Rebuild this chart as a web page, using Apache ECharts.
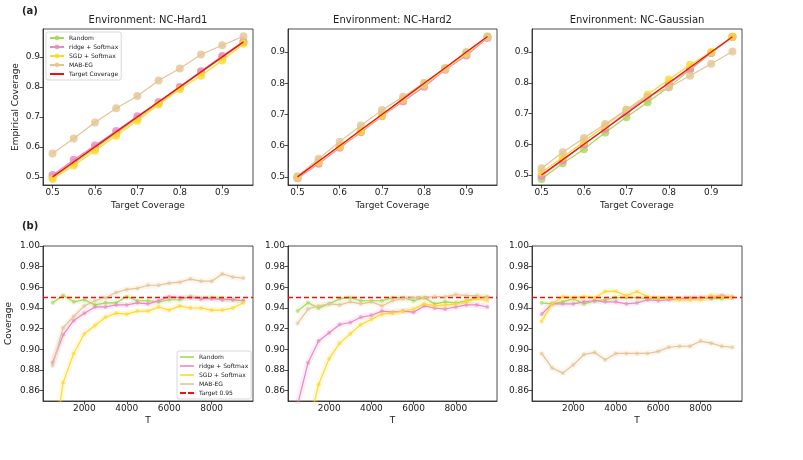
<!DOCTYPE html>
<html>
<head>
<meta charset="utf-8">
<script src="https://cdn.jsdelivr.net/npm/echarts@6/dist/echarts.min.js"></script>
<style>
  html, body { margin: 0; padding: 0; background: #fff; }
  #chart { width: 803px; height: 460px; }
</style>
</head>
<body>
<div id="chart"></div>
<script>
// (a) coverage vs target, one entry per environment
const envNames = ["Environment: NC-Hard1", "Environment: NC-Hard2", "Environment: NC-Gaussian"];
const targets = [0.5, 0.55, 0.6, 0.65, 0.7, 0.75, 0.8, 0.85, 0.9, 0.95];

const randomTop = [
  [0.498, 0.545, 0.595, 0.645, 0.695, 0.745, 0.797, 0.848, 0.898, 0.948],
  [0.499, 0.549, 0.598, 0.648, 0.699, 0.749, 0.798, 0.848, 0.898, 0.949],
  [0.487, 0.538, 0.584, 0.638, 0.688, 0.737, 0.786, 0.842, 0.897, 0.949],
];
const ridgeTop = [
  [0.506, 0.557, 0.605, 0.653, 0.702, 0.750, 0.800, 0.852, 0.903, 0.951],
  [0.496, 0.542, 0.593, 0.643, 0.694, 0.742, 0.789, 0.843, 0.889, 0.945],
  [0.497, 0.548, 0.600, 0.650, 0.705, 0.753, 0.797, 0.845, 0.898, 0.950],
];
const sgdTop = [
  [0.493, 0.538, 0.587, 0.637, 0.687, 0.741, 0.792, 0.837, 0.888, 0.944],
  [0.498, 0.548, 0.597, 0.646, 0.697, 0.748, 0.795, 0.846, 0.895, 0.948],
  [0.508, 0.558, 0.609, 0.660, 0.712, 0.762, 0.811, 0.859, 0.900, 0.950],
];
const mabTop = [
  [0.578, 0.628, 0.681, 0.729, 0.770, 0.821, 0.861, 0.908, 0.939, 0.969],
  [0.502, 0.558, 0.613, 0.665, 0.714, 0.757, 0.802, 0.848, 0.900, 0.950],
  [0.522, 0.574, 0.620, 0.666, 0.712, 0.755, 0.785, 0.823, 0.862, 0.902],
];
const topYRange = [[0.473, 0.993], [0.474, 0.974], [0.4675, 0.975]];
const topTicks = [0.5, 0.6, 0.7, 0.8, 0.9];

// (b) coverage over T at target 0.95
const T = [500, 1000, 1500, 2000, 2500, 3000, 3500, 4000, 4500, 5000,
           5500, 6000, 6500, 7000, 7500, 8000, 8500, 9000, 9500];
const targetLevel = 0.95;

const randomT = [
  [0.945, 0.952, 0.946, 0.948, 0.943, 0.945, 0.945, 0.951, 0.947, 0.947, 0.946, 0.948, 0.948, 0.951, 0.949, 0.950, 0.949, 0.948, 0.947],
  [0.937, 0.945, 0.940, 0.944, 0.949, 0.950, 0.947, 0.947, 0.947, 0.950, 0.950, 0.947, 0.950, 0.944, 0.946, 0.945, 0.947, 0.950, 0.951],
  [0.945, 0.944, 0.946, 0.949, 0.944, 0.947, 0.948, 0.950, 0.950, 0.950, 0.949, 0.949, 0.949, 0.949, 0.950, 0.950, 0.949, 0.949, 0.951],
];
const ridgeT = [
  [0.887, 0.914, 0.928, 0.935, 0.941, 0.941, 0.943, 0.943, 0.945, 0.944, 0.947, 0.951, 0.950, 0.950, 0.949, 0.949, 0.948, 0.948, 0.947],
  [0.846, 0.887, 0.908, 0.916, 0.924, 0.926, 0.931, 0.933, 0.937, 0.936, 0.937, 0.936, 0.942, 0.940, 0.939, 0.941, 0.943, 0.943, 0.941],
  [0.934, 0.944, 0.944, 0.944, 0.946, 0.947, 0.946, 0.946, 0.944, 0.945, 0.948, 0.947, 0.948, 0.949, 0.949, 0.950, 0.950, 0.952, 0.950],
];
const sgdT = [
  [0.800, 0.868, 0.896, 0.915, 0.923, 0.931, 0.935, 0.934, 0.937, 0.937, 0.941, 0.938, 0.942, 0.940, 0.940, 0.938, 0.938, 0.940, 0.945],
  [0.770, 0.823, 0.866, 0.891, 0.906, 0.915, 0.924, 0.929, 0.934, 0.935, 0.937, 0.939, 0.944, 0.942, 0.943, 0.944, 0.946, 0.949, 0.947],
  [0.927, 0.944, 0.951, 0.950, 0.951, 0.950, 0.956, 0.956, 0.952, 0.956, 0.951, 0.950, 0.950, 0.948, 0.948, 0.948, 0.952, 0.951, 0.950],
];
const mabT = [
  [0.884, 0.921, 0.932, 0.942, 0.947, 0.950, 0.955, 0.958, 0.959, 0.962, 0.962, 0.964, 0.965, 0.968, 0.966, 0.966, 0.973, 0.970, 0.969],
  [0.925, 0.939, 0.942, 0.944, 0.943, 0.946, 0.944, 0.946, 0.942, 0.947, 0.949, 0.950, 0.950, 0.951, 0.951, 0.953, 0.952, 0.952, 0.950],
  [0.896, 0.882, 0.877, 0.885, 0.895, 0.897, 0.890, 0.896, 0.896, 0.896, 0.896, 0.898, 0.902, 0.903, 0.903, 0.908, 0.906, 0.903, 0.902],
];
const bottomTicksY = [0.86, 0.88, 0.90, 0.92, 0.94, 0.96, 0.98, 1.00];
const bottomTicksX = [2000, 4000, 6000, 8000];

const methods = ["Random", "ridge + Softmax", "SGD + Softmax", "MAB-EG"];
const colors = ["#a6d854", "#e78ac3", "#ffd92f", "#e5c494"];
const red = "#f01010";
const ink = "#222";

const panelLefts = [43, 288, 532];
const panelWidths = [210, 209, 210];

const grids = [];
const xAxes = [];
const yAxes = [];
const series = [];

const axisCommon = (ticks, fmt) => ({
  type: "value",
  splitLine: { show: false },
  axisLine: { show: true, lineStyle: { color: ink, width: 0.8 } },
  axisTick: { show: true, customValues: ticks, length: 3.5, lineStyle: { color: ink, width: 0.8 } },
  axisLabel: { customValues: ticks, formatter: fmt, fontSize: 9, color: ink, margin: 3, fontFamily: "DejaVu Sans" },
  nameTextStyle: { fontSize: 9, color: ink, fontFamily: "DejaVu Sans" },
});

for (let i = 0; i < 3; i++) {
  // top row
  grids.push({ left: panelLefts[i], top: 29, width: panelWidths[i], height: 156,
    show: true, borderColor: ink, borderWidth: 0.8 });
  xAxes.push(Object.assign(axisCommon(topTicks, v => v.toFixed(1)), {
    gridIndex: i, min: 0.4775, max: 0.9725,
    name: "Target Coverage", nameLocation: "middle", nameGap: 16,
  }));
  yAxes.push(Object.assign(axisCommon(topTicks, v => v.toFixed(1)), {
    gridIndex: i, min: topYRange[i][0], max: topYRange[i][1],
    name: i === 0 ? "Empirical Coverage" : "", nameLocation: "middle", nameGap: 23,
  }));
}
for (let i = 0; i < 3; i++) {
  // bottom row
  grids.push({ left: panelLefts[i], top: 246, width: panelWidths[i], height: 155,
    show: true, borderColor: ink, borderWidth: 0.8 });
  xAxes.push(Object.assign(axisCommon(bottomTicksX, v => String(v)), {
    gridIndex: 3 + i, min: 50, max: 9950,
    name: "T", nameLocation: "middle", nameGap: 15,
  }));
  yAxes.push(Object.assign(axisCommon(bottomTicksY, v => v.toFixed(2)), {
    gridIndex: 3 + i, min: 0.85, max: 1.0,
    name: i === 0 ? "Coverage" : "", nameLocation: "middle", nameGap: 30,
  }));
}

const topData = [randomTop, ridgeTop, sgdTop, mabTop];
const bottomData = [randomT, ridgeT, sgdT, mabT];

for (let i = 0; i < 3; i++) {
  methods.forEach((m, k) => {
    series.push({
      name: m, type: "line", xAxisIndex: i, yAxisIndex: i,
      data: targets.map((x, j) => [x, topData[k][i][j]]),
      symbol: "circle", symbolSize: 8, color: colors[k],
      itemStyle: { color: colors[k], opacity: 0.8 },
      lineStyle: { color: colors[k], width: 1.2 },
      z: 2 + k,
    });
  });
  series.push({
    name: "Target Coverage", type: "line", xAxisIndex: i, yAxisIndex: i,
    data: targets.map(x => [x, x]),
    symbol: "none", color: red, lineStyle: { color: red, width: 1.3 }, z: 10,
  });
}

for (let i = 0; i < 3; i++) {
  methods.forEach((m, k) => {
    const pts = T.map((t, j) => [t, bottomData[k][i][j]]);
    // faint confidence band
    series.push({
      name: "_band" + i + "_" + k, type: "line", xAxisIndex: 3 + i, yAxisIndex: 3 + i,
      data: pts, symbol: "none", silent: true, clip: true,
      lineStyle: { color: colors[k], width: 6, opacity: 0.15 }, z: 1,
    });
    series.push({
      name: m, type: "line", xAxisIndex: 3 + i, yAxisIndex: 3 + i,
      data: pts, symbol: "circle", symbolSize: 4, color: colors[k], clip: true,
      itemStyle: { color: colors[k], opacity: 0.6 },
      lineStyle: { color: colors[k], width: 1.2 },
      z: 2 + k,
    });
  });
  series.push({
    name: "Target 0.95", type: "line", xAxisIndex: 3 + i, yAxisIndex: 3 + i,
    data: [], color: red,
    markLine: {
      silent: true, symbol: "none", label: { show: false },
      lineStyle: { color: red, width: 1.4, type: [5, 3] },
      data: [{ yAxis: targetLevel }],
    },
    z: 10,
  });
}

const legendBox = {
  orient: "vertical", itemWidth: 14, itemGap: 3,
  padding: [3, 3], borderColor: "#cfcfcf", borderWidth: 0.8, borderRadius: 2,
  backgroundColor: "rgba(255,255,255,0.85)",
  textStyle: { fontSize: 6, color: ink, fontFamily: "DejaVu Sans" },
};

const dashIcon = "path://M0,0h6v2h-6zM8,0h6v2h-6z";

const option = {
  animation: false,
  textStyle: { fontFamily: "DejaVu Sans" },
  grid: grids, xAxis: xAxes, yAxis: yAxes, series,
  legend: [
    Object.assign({}, legendBox, {
      left: 46, top: 32, itemHeight: 6,
      data: methods.concat([{ name: "Target Coverage", itemStyle: { opacity: 0 } }]),
    }),
    Object.assign({}, legendBox, {
      left: 177, top: 351, itemHeight: 2, itemGap: 3,
      data: methods.map(m => ({ name: m, icon: "rect" })).concat([{ name: "Target 0.95", icon: dashIcon }]),
    }),
  ],
  graphic: [
    { type: "text", left: 22, top: 6, style: { text: "(a)", fontSize: 10, fontWeight: "bold", fill: ink, fontFamily: "DejaVu Sans" } },
    { type: "text", left: 22, top: 221, style: { text: "(b)", fontSize: 10, fontWeight: "bold", fill: ink, fontFamily: "DejaVu Sans" } },
  ].concat(envNames.map((t, i) => ({
    type: "text", x: panelLefts[i] + panelWidths[i] / 2, y: 20,
    style: { text: t, fontSize: 10, fill: ink, align: "center", verticalAlign: "middle", fontFamily: "DejaVu Sans" },
  }))),
};

const chart = echarts.init(document.getElementById("chart"), null, { renderer: "canvas" });
chart.setOption(option);
</script>
</body>
</html>
